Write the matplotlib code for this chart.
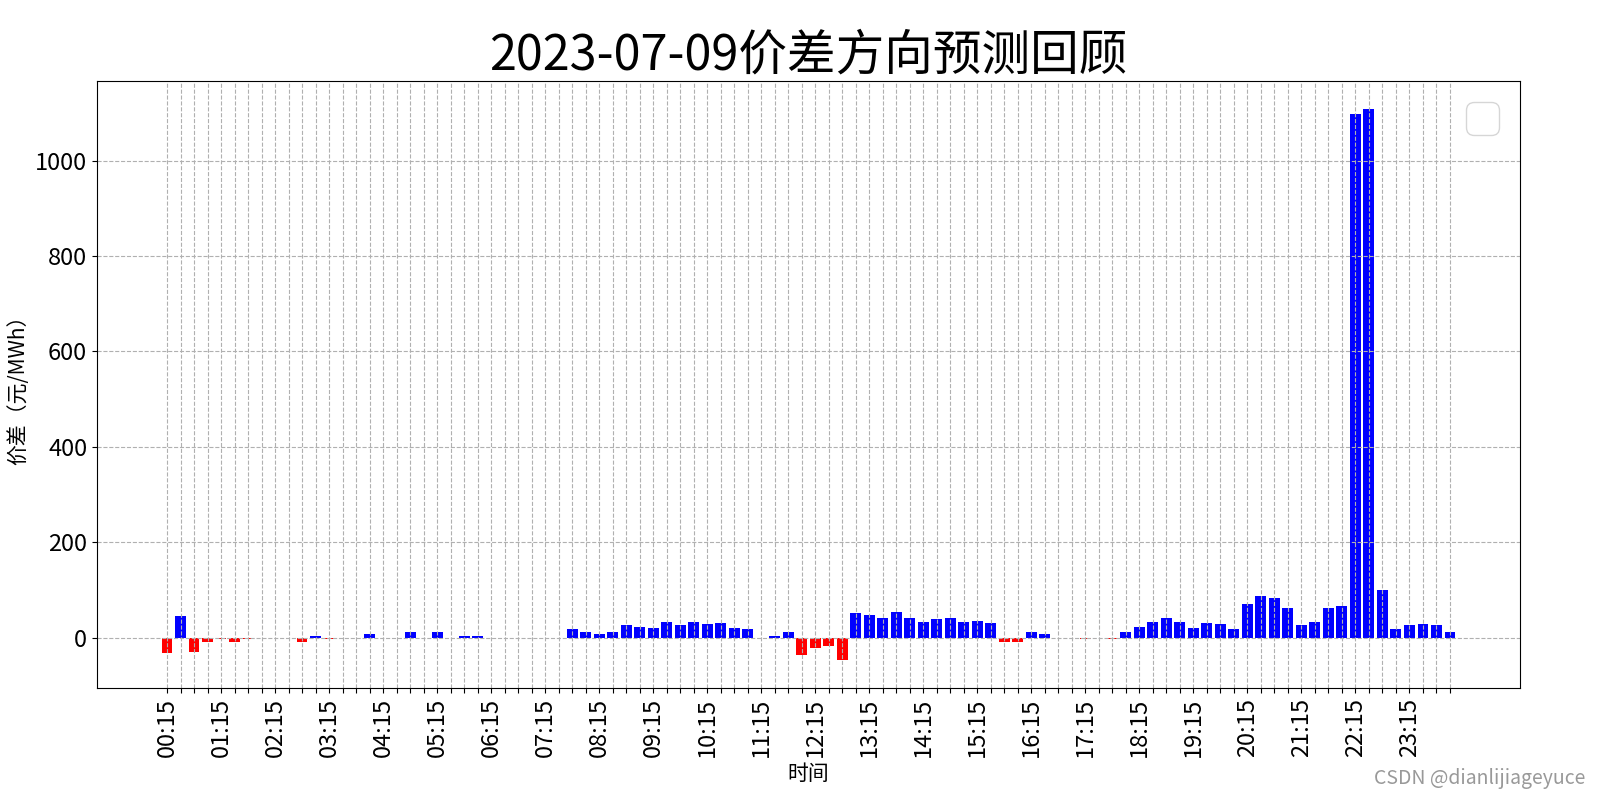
import matplotlib
matplotlib.use("Agg")
import matplotlib.pyplot as plt
import numpy as np

plt.rcParams['font.family'] = ['Noto Sans CJK SC', 'DejaVu Sans']
plt.rcParams['axes.unicode_minus'] = False

title = "2023-07-09价差方向预测回顾"
xlabel = "时间"
ylabel = "价差（元/MWh）"

# 96 quarter-hour slots from 00:15 to 24:00
times = ["%02d:%02d" % (((i + 1) * 15) // 60, ((i + 1) * 15) % 60) for i in range(96)]

values = [
    -31, 45, -29, -8, -3.5, -8, -3.5, 0, 0, 0, -8, 3, -3.5, 0, 0, 7,
    0, 0, 11, 0, 11, 0, 3, 3, -1, 0, 0, -1, 0, -1.5, 17.5, 11,
    7, 13, 26, 21.5, 19.5, 32, 26, 32, 28, 30, 19.5, 17.5, 0, 3, 13, -37,
    -22, -18, -47.5, 51, 47, 40.5, 53, 40.5, 32, 38.5, 40.5, 32, 36, 30, -9, -8,
    11, 7, 0, 0, -3, -1.5, -3, 13, 21.5, 32, 40.5, 32, 19.5, 30, 28, 17.5,
    70, 86.5, 82.5, 61.5, 26, 32, 61.5, 65.5, 1098, 1109, 101, 17.5, 26, 28, 26, 13,
]

tick_labels = [t if i % 4 == 0 else "" for i, t in enumerate(times)]

fig = plt.figure(figsize=(16, 8), dpi=100)
ax = fig.add_axes([0.0606, 0.14, 0.8894, 0.75875])

x = np.arange(len(values))
colors = ['blue' if v > 0 else 'red' for v in values]
ax.bar(x, values, color=colors, width=0.8)

ax.set_xticks(x)
ax.set_xticklabels(tick_labels, rotation=90, fontsize=17)
ax.tick_params(axis='y', labelsize=17)
ax.grid(True, linestyle='--')

ax.set_title(title, fontsize=35)
ax.set_xlabel(xlabel, fontsize=15)
ax.set_ylabel(ylabel, fontsize=15)

ax.legend(handles=[], loc='upper right', prop={'size': 30})

fig.text(0.991, 0.027, "CSDN @dianlijiageyuce", ha='right', va='center',
         fontsize=14, color='#999999')

fig.savefig("out.png", dpi=100)
